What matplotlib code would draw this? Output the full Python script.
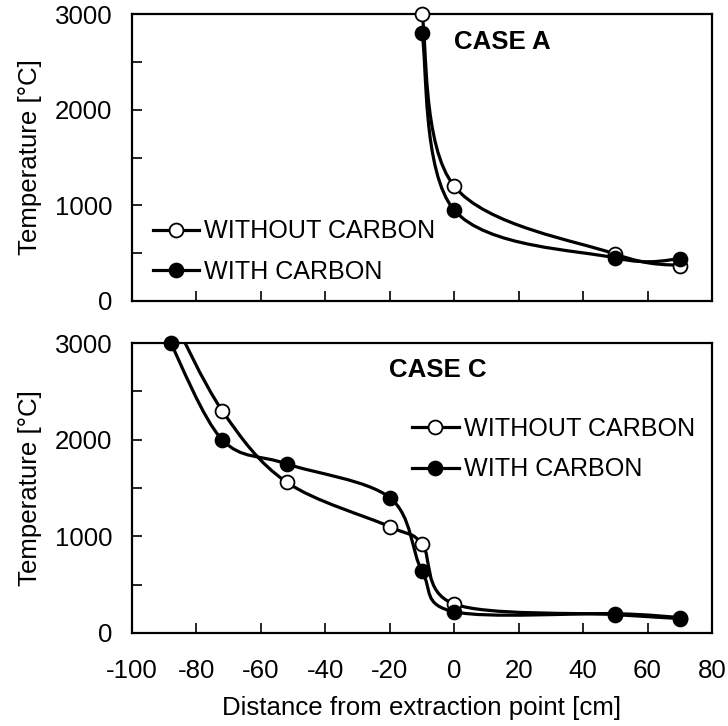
import matplotlib
matplotlib.use("Agg")
import matplotlib.pyplot as plt
from matplotlib.path import Path
from matplotlib.patches import PathPatch
from matplotlib.lines import Line2D
from matplotlib.ticker import MultipleLocator

# ---------------- Data ----------------
# CASE A
a_x_without = [-10, 0, 50, 70]
a_y_without = [3000, 1200, 490, 370]
a_x_with = [-10, 0, 50, 70]
a_y_with = [2800, 950, 450, 440]

# CASE C
c_x_without = [-88, -72, -52, -20, -10, 0, 50, 70]
c_y_without = [3300, 2300, 1560, 1100, 920, 300, 190, 150]
c_x_with = [-88, -72, -52, -20, -10, 0, 50, 70]
c_y_with = [3000, 2000, 1750, 1400, 640, 220, 200, 160]

LABELS = ["WITHOUT CARBON", "WITH CARBON"]

plt.rcParams["font.family"] = ["Liberation Sans", "DejaVu Sans"]
plt.rcParams["axes.unicode_minus"] = False
FS = 18.6
FS_LEG = 18.1
LW = 2.3
MS = 10


def smooth_path(xs, ys):
    # Excel-style smoothed line: cubic Bezier through every point
    pts = list(zip(xs, ys))
    n = len(pts)
    verts = [pts[0]]
    codes = [Path.MOVETO]
    for i in range(n - 1):
        p0 = pts[i - 1] if i > 0 else pts[i]
        p1 = pts[i]
        p2 = pts[i + 1]
        p3 = pts[i + 2] if i + 2 < n else pts[i + 1]
        c1 = (p1[0] + (p2[0] - p0[0]) / 6, p1[1] + (p2[1] - p0[1]) / 6)
        c2 = (p2[0] - (p3[0] - p1[0]) / 6, p2[1] - (p3[1] - p1[1]) / 6)
        verts += [c1, c2, p2]
        codes += [Path.CURVE4] * 3
    return Path(verts, codes)


def draw_series(ax, xs, ys, face):
    patch = PathPatch(smooth_path(xs, ys), fill=False, lw=LW, edgecolor="black",
                      capstyle="round", joinstyle="round", zorder=2)
    ax.add_patch(patch)
    ax.plot(xs, ys, ls="none", marker="o", ms=MS, mfc=face, mec="black",
            mew=1.3, zorder=3, clip_on=False if max(ys) <= 3000 else True)


def style_axes(ax):
    ax.set_xlim(-100, 80)
    ax.set_ylim(0, 3000)
    ax.xaxis.set_major_locator(MultipleLocator(20))
    ax.yaxis.set_major_locator(MultipleLocator(1000))
    ax.yaxis.set_minor_locator(MultipleLocator(500))
    ax.tick_params(which="both", direction="in", length=7, width=1.2,
                   labelsize=FS, top=False, right=False)
    ax.tick_params(axis="y", pad=14)
    ax.tick_params(axis="x", pad=19)
    for s in ax.spines.values():
        s.set_linewidth(1.6)
    ax.set_ylabel("Temperature [°C]", fontsize=FS)
    ax.yaxis.set_label_coords(-0.155, 0.5)


def add_legend(ax, x, y):
    handles = [
        Line2D([], [], color="black", lw=LW, marker="o", ms=MS, mfc="white", mec="black", mew=1.3),
        Line2D([], [], color="black", lw=LW, marker="o", ms=MS, mfc="black", mec="black", mew=1.3),
    ]
    ax.legend(handles, LABELS, loc="center left", bbox_to_anchor=(x, y), frameon=False,
              fontsize=FS_LEG, handlelength=1.85, handletextpad=0.2, labelspacing=0.65,
              borderpad=0, borderaxespad=0)


fig = plt.figure(figsize=(7.28, 7.26), dpi=100)
ax1 = fig.add_axes([0.1813, 0.5854, 0.7967, 0.3953])
ax2 = fig.add_axes([0.1813, 0.1281, 0.7967, 0.3994])

draw_series(ax1, a_x_without, a_y_without, "white")
draw_series(ax1, a_x_with, a_y_with, "black")
style_axes(ax1)
ax1.set_xticklabels([])
ax1.text(0.638, 0.902, "CASE A", transform=ax1.transAxes, fontsize=FS,
         fontweight="bold", ha="center", va="center")
add_legend(ax1, 0.036, 0.172)

draw_series(ax2, c_x_without, c_y_without, "white")
draw_series(ax2, c_x_with, c_y_with, "black")
style_axes(ax2)
ax2.text(0.528, 0.907, "CASE C", transform=ax2.transAxes, fontsize=FS,
         fontweight="bold", ha="center", va="center")
add_legend(ax2, 0.483, 0.634)
ax2.set_xlabel("Distance from extraction point [cm]", fontsize=FS, labelpad=9)

fig.savefig("out.png", dpi=100)
